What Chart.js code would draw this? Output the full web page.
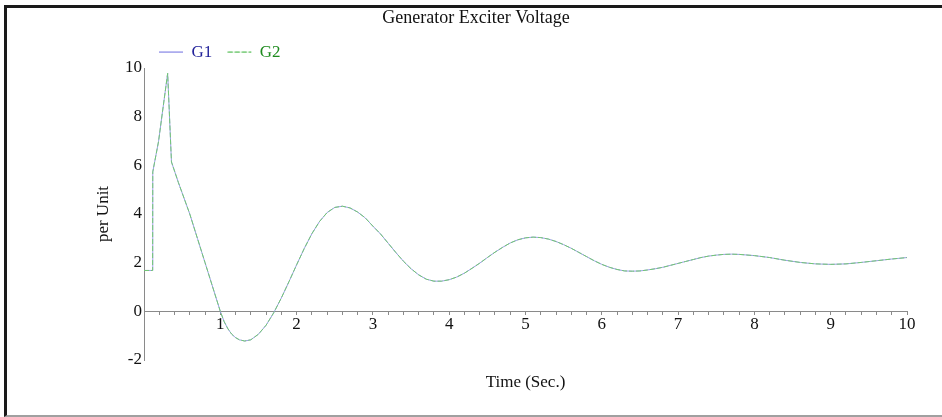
<!DOCTYPE html>
<html>
<head>
<meta charset="utf-8">
<script src="https://cdn.jsdelivr.net/npm/chart.js@4"></script>
<style>
    html, body { margin: 0; padding: 0; background: #fff; }
    #frame {
        position: absolute; left: 4px; top: 5px; width: 950px; height: 407px;
        border-left: 3px solid #1a1a1a; border-top: 3px solid #1a1a1a; border-bottom: 2px solid #a0a0a0;
    }
    #exciterChart { position: absolute; left: 0; top: 0; }
</style>
</head>
<body>
<div id="frame"></div>
<canvas id="exciterChart" width="942" height="417"></canvas>
<script>
// Generator exciter voltage
const timeSec = [
    0, 0.113, 0.115, 0.19, 0.31, 0.36, 0.45, 0.6, 0.7, 0.8,
    0.9, 1.0, 1.05, 1.1, 1.15, 1.2, 1.25, 1.32, 1.4, 1.5,
    1.6, 1.7, 1.8, 1.9, 2.0, 2.1, 2.2, 2.3, 2.4, 2.5,
    2.6, 2.7, 2.8, 2.9, 3.0, 3.1, 3.2, 3.3, 3.4, 3.5,
    3.6, 3.7, 3.8, 3.9, 4.0, 4.1, 4.2, 4.3, 4.4, 4.5,
    4.6, 4.7, 4.8, 4.9, 5.0, 5.1, 5.2, 5.3, 5.4, 5.5,
    5.6, 5.7, 5.8, 5.9, 6.0, 6.1, 6.2, 6.3, 6.4, 6.5,
    6.6, 6.7, 6.8, 6.9, 7.0, 7.1, 7.2, 7.3, 7.4, 7.5,
    7.6, 7.7, 7.8, 8.0, 8.2, 8.4, 8.6, 8.8, 9.0, 9.2,
    9.4, 9.6, 9.8, 10.0
];

const g1Values = [
    1.68, 1.68, 5.73, 6.97, 9.78, 6.14, 5.3, 4.0, 3.0, 2.0,
    1.0, 0.0, -0.42, -0.72, -0.94, -1.08, -1.17, -1.22, -1.17, -0.94,
    -0.57, -0.06, 0.55, 1.22, 1.91, 2.58, 3.19, 3.69, 4.06, 4.27,
    4.32, 4.25, 4.08, 3.84, 3.5, 3.18, 2.80, 2.42, 2.06, 1.75,
    1.50, 1.32, 1.24, 1.24, 1.30, 1.41, 1.57, 1.77, 1.98, 2.21,
    2.43, 2.63, 2.81, 2.94, 3.02, 3.05, 3.03, 2.97, 2.87, 2.74,
    2.59, 2.42, 2.25, 2.08, 1.93, 1.81, 1.72, 1.66, 1.65, 1.66,
    1.70, 1.75, 1.81, 1.89, 1.97, 2.05, 2.13, 2.21, 2.27, 2.31,
    2.34, 2.35, 2.34, 2.29, 2.21, 2.10, 2.01, 1.95, 1.93, 1.95,
    2.01, 2.08, 2.15, 2.21
];

// G2 lies on top of G1 over the whole run
const g2Values = g1Values.slice();

const seriesNames = ['G1', 'G2'];
const yTicks = [-2, 0, 2, 4, 6, 8, 10];

const serif = "'Liberation Serif', 'Times New Roman', 'DejaVu Serif', serif";

function toPoints(values) {
    return timeSec.map((t, i) => ({ x: t, y: values[i] }));
}

const labelColors = ['#22229a', '#1d8a1d'];

const ctx = document.getElementById('exciterChart').getContext('2d');
const chart = new Chart(ctx, {
    type: 'line',
    data: {
        datasets: [
            {
                label: seriesNames[0],
                data: toPoints(g1Values),
                borderColor: '#9c9cea',
                backgroundColor: 'transparent',
                borderWidth: 1,
                pointRadius: 0,
                tension: 0,
                order: 1
            },
            {
                // drawn over G1
                label: seriesNames[1],
                data: toPoints(g2Values),
                borderColor: '#72c872',
                backgroundColor: 'transparent',
                borderWidth: 1,
                borderDash: [5, 2],
                pointRadius: 0,
                tension: 0,
                order: 0
            }
        ]
    },
    options: {
        responsive: false,
        animation: false,
        devicePixelRatio: 1,
        layout: { padding: { left: 45, right: 35, top: 0, bottom: 57 } },
        plugins: {
            title: {
                display: true,
                text: 'Generator Exciter Voltage',
                color: '#111',
                font: { family: serif, size: 18, weight: 'normal' },
                padding: { top: 7, bottom: 0 }
            },
            legend: {
                position: 'top',
                align: 'start',
                fullSize: false,
                maxHeight: 39.4,
                labels: {
                    boxWidth: 24,
                    boxHeight: 0,
                    padding: 15,
                    font: { family: serif, size: 17 },
                    sort: (a, b) => a.datasetIndex - b.datasetIndex,
                    generateLabels: (c) => {
                        const items = Chart.defaults.plugins.legend.labels.generateLabels(c);
                        items.forEach((it) => { it.fontColor = labelColors[it.datasetIndex]; });
                        return items;
                    }
                }
            },
            tooltip: { enabled: false }
        },
        scales: {
            x: {
                type: 'linear',
                position: { y: 0 },
                min: 0,
                max: 10,
                border: { color: '#8a8a8a', width: 1 },
                grid: { drawOnChartArea: false, drawTicks: true, tickLength: 3, color: '#8a8a8a' },
                ticks: {
                    stepSize: 0.2,
                    autoSkip: false,
                    maxRotation: 0,
                    padding: 0,
                    color: '#111',
                    font: { family: serif, size: 17 },
                    callback: (v) => {
                        const r = Math.round(v);
                        return (Math.abs(v - r) < 1e-6 && r !== 0) ? String(r) : '';
                    }
                },
                title: {
                    display: true,
                    text: 'Time (Sec.)',
                    color: '#111',
                    font: { family: serif, size: 17 },
                    padding: { top: 38, bottom: 0 }
                }
            },
            y: {
                position: 'left',
                min: yTicks[0],
                max: yTicks[yTicks.length - 1],
                afterFit: (s) => { s.width = 99; },
                afterBuildTicks: (s) => { s.ticks = yTicks.map(v => ({ value: v })); },
                border: { color: '#8a8a8a', width: 1 },
                grid: { display: false, drawTicks: false },
                ticks: {
                    padding: 2,
                    color: '#111',
                    font: { family: serif, size: 17 }
                },
                title: {
                    display: true,
                    text: 'per Unit',
                    color: '#111',
                    font: { family: serif, size: 17 },
                    padding: { top: 48, bottom: 0 }
                }
            }
        }
    }
});
</script>
</body>
</html>
